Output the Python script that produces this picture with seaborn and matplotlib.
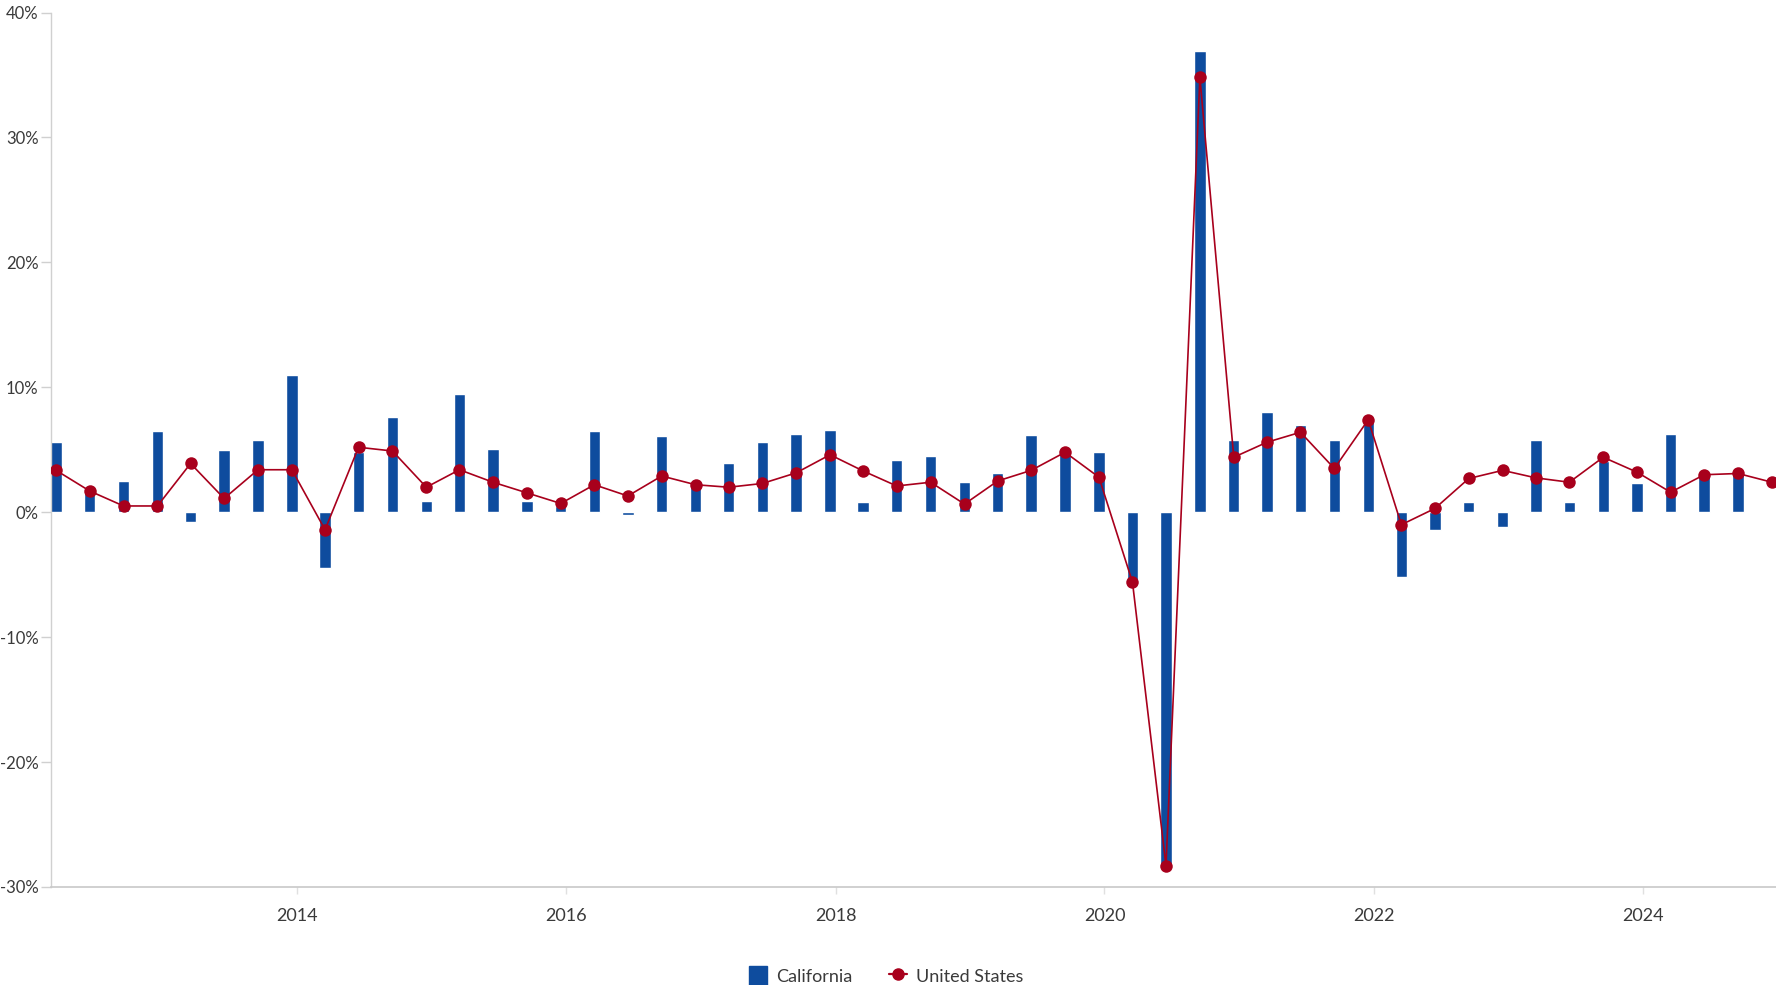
import numpy as np
import pandas as pd
import matplotlib
matplotlib.use("Agg")
import matplotlib.pyplot as plt
from matplotlib.patches import Patch
from matplotlib.lines import Line2D
from matplotlib.ticker import FuncFormatter
import matplotlib.dates as mdates
import seaborn as sns

# ---- data (annualized quarterly real GDP growth, %) ----
quarters = [str(p) for p in pd.period_range("2012Q1", "2024Q4", freq="Q")]
california = [5.6, 1.9, 2.5, 6.5, -0.8, 5.0, 5.8, 11.0,
              -4.5, 4.8, 7.6, 0.9, 9.5, 5.05, 0.9, 0.5,
              6.5, -0.2, 6.1, 2.1, 3.9, 5.6, 6.3, 6.6,
              0.8, 4.2, 4.5, 2.4, 3.15, 6.2, 4.9, 4.8,
              -5.6, -28.2, 36.9, 5.8, 8.0, 7.0, 5.8, 7.2,
              -5.2, -1.4, 0.8, -1.2, 5.8, 0.8, 4.1, 2.35,
              6.3, 3.0, 3.1, np.nan]
united_states = [3.35, 1.7, 0.5, 0.5, 3.9, 1.1, 3.4, 3.4,
                 -1.4, 5.2, 4.9, 2.0, 3.4, 2.4, 1.55, 0.7,
                 2.2, 1.3, 2.9, 2.2, 2.0, 2.3, 3.15, 4.6,
                 3.3, 2.1, 2.4, 0.65, 2.5, 3.35, 4.8, 2.8,
                 -5.6, -28.3, 34.8, 4.4, 5.6, 6.4, 3.5, 7.4,
                 -1.0, 0.3, 2.7, 3.35, 2.75, 2.4, 4.4, 3.2,
                 1.6, 3.0, 3.1, 2.4]
series_names = ["California", "United States"]
year_ticks = [2014, 2016, 2018, 2020, 2022, 2024]
y_ticks = [-30, -20, -10, 0, 10, 20, 30, 40]

BLUE = "#0E4C9E"
RED = "#A8001C"
TEXT = "#3a3a3a"

# quarter -> plotted date (mid of last month of the quarter)
dates = pd.PeriodIndex(quarters, freq="Q").to_timestamp(how="end").normalize() - pd.Timedelta(days=14)
df = pd.DataFrame({"date": dates, "California": california, "United States": united_states})

sns.set_theme(style="white")
plt.rcParams["font.family"] = ["Lato", "DejaVu Sans"]

fig = plt.figure(figsize=(17.76, 9.85), dpi=100)
ax = fig.add_axes([0.0287, 0.0995, 0.9713, 0.8878])

ax.bar(df["date"], df["California"], width=31, color=BLUE, zorder=2)
sns.lineplot(data=df, x="date", y="United States", ax=ax, color=RED, linewidth=1.2,
             marker="o", markersize=9, markeredgewidth=0, zorder=3, legend=False)

ax.set_ylim(-30, 40)
ax.set_yticks(y_ticks)
ax.yaxis.set_major_formatter(FuncFormatter(lambda v, p: f"{int(v)}%"))
ax.set_xlim(df["date"].iloc[0] - pd.Timedelta(days=14), df["date"].iloc[-1] + pd.Timedelta(days=11))
ax.set_xticks([pd.Timestamp(f"{y}-01-01") for y in year_ticks])
ax.xaxis.set_major_formatter(mdates.DateFormatter("%Y"))
ax.set_xlabel("")
ax.set_ylabel("")

for s in ["top", "right"]:
    ax.spines[s].set_visible(False)
ax.spines["left"].set_color("#d0d0d0")
ax.spines["bottom"].set_color("#c8c8c8")
ax.spines["left"].set_linewidth(1.0)
ax.spines["bottom"].set_linewidth(1.2)
ax.tick_params(axis="y", left=True, length=7, width=1, color="#d0d0d0", labelsize=12,
               labelcolor=TEXT, pad=2)
ax.tick_params(axis="x", bottom=True, length=5, width=1, color="#e0e0e0", labelsize=13,
               labelcolor=TEXT, pad=10)
ax.grid(False)

handles = [Patch(facecolor=BLUE, edgecolor=BLUE, label=series_names[0]),
           Line2D([0], [0], color=RED, marker="o", markersize=8, linewidth=1.6,
                  label=series_names[1])]
fig.legend(handles=handles, loc="center", bbox_to_anchor=(0.499, 0.009), ncol=2,
           frameon=False, fontsize=13, handlelength=1.0, handleheight=1.4,
           columnspacing=2.0, handletextpad=0.5, labelcolor=TEXT)

fig.savefig("out.png", dpi=100)
